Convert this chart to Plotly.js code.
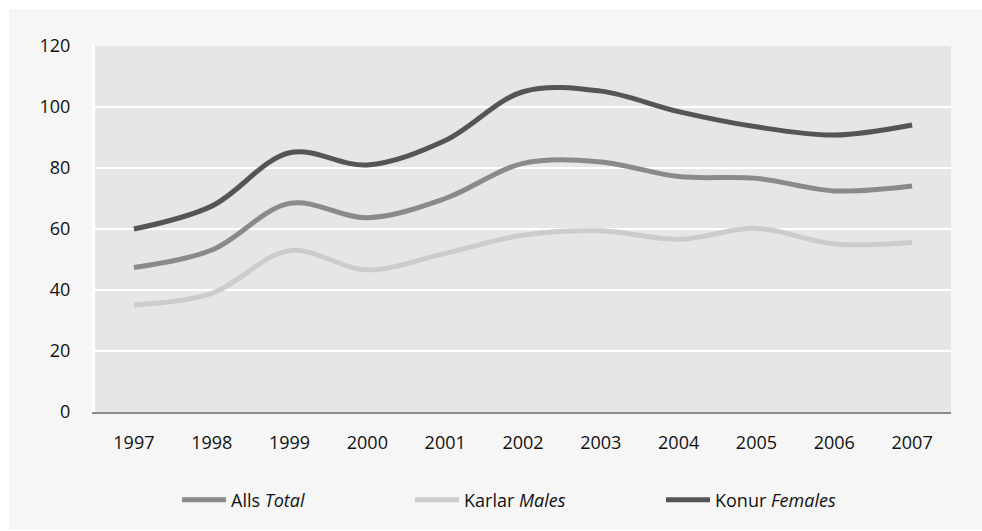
<!DOCTYPE html>
<html>
<head>
<meta charset="utf-8">
<script src="https://cdn.plot.ly/plotly-3.0.1.min.js"></script>
<style>
  html, body { margin: 0; padding: 0; background: #ffffff; }
  #chart { position: absolute; left: 9px; top: 9px; width: 973px; height: 520px; }
</style>
</head>
<body>
<div id="chart"></div>
<script>
// Data
var years = ['1997','1998','1999','2000','2001','2002','2003','2004','2005','2006','2007'];
var totalVals   = [47.4, 53.1, 68.4, 63.7, 70.0, 81.5, 82.0, 77.2, 76.6, 72.5, 74.1];
var malesVals   = [35.1, 38.9, 52.9, 46.6, 52.0, 58.0, 59.4, 56.6, 60.2, 55.1, 55.6];
var femalesVals = [60.0, 67.5, 85.0, 81.0, 89.0, 105.0, 105.2, 98.5, 93.5, 90.8, 94.1];
var yTicks = [0, 20, 40, 60, 80, 100, 120];

var seriesNames = ['Alls <i>Total</i>', 'Karlar <i>Males</i>', 'Konur <i>Females</i>'];
var seriesColors = ['#8a8a8a', '#cbcdcb', '#555555'];

var font = { family: '"Open Sans", "Noto Sans", sans-serif', size: 18, color: '#111111' };

function mk(vals, i, leg) {
  return {
    type: 'scatter', mode: 'lines', x: years, y: vals, name: seriesNames[i],
    legend: leg,
    line: { color: seriesColors[i], width: 5, shape: 'spline', smoothing: 1 },
    hoverinfo: 'skip'
  };
}

var data = [
  mk(totalVals, 0, 'legend'),
  mk(malesVals, 1, 'legend2'),
  mk(femalesVals, 2, 'legend3')
];

function leg(xpx) {
  return {
    orientation: 'h', xref: 'container', yref: 'container',
    x: xpx / 973, y: 29 / 520, xanchor: 'left', yanchor: 'middle',
    bgcolor: 'rgba(0,0,0,0)', borderwidth: 0, font: font, itemwidth: 44
  };
}

var layout = {
  width: 973, height: 520,
  margin: { l: 86, r: 31, t: 37, b: 117, pad: 0 },
  paper_bgcolor: '#f6f6f6',
  plot_bgcolor: '#e6e6e6',
  font: font,
  showlegend: true,
  legend: leg(168),
  legend2: leg(401),
  legend3: leg(652),
  xaxis: {
    type: 'category', range: [-0.5, 10.5],
    showgrid: false, zeroline: false,
    showline: true, linecolor: '#8a8a8a', linewidth: 2,
    ticks: '', ticklabelstandoff: 13,
    tickfont: font, fixedrange: true
  },
  yaxis: {
    range: [0, 120], tickvals: yTicks, ticktext: yTicks.map(String),
    showgrid: true, gridcolor: '#ffffff', gridwidth: 2,
    zeroline: false, showline: true, linecolor: '#ffffff', linewidth: 3,
    ticks: '', ticklabelstandoff: 18,
    tickfont: font, fixedrange: true
  }
};

Plotly.newPlot('chart', data, layout, { displayModeBar: false, staticPlot: true });
</script>
</body>
</html>
